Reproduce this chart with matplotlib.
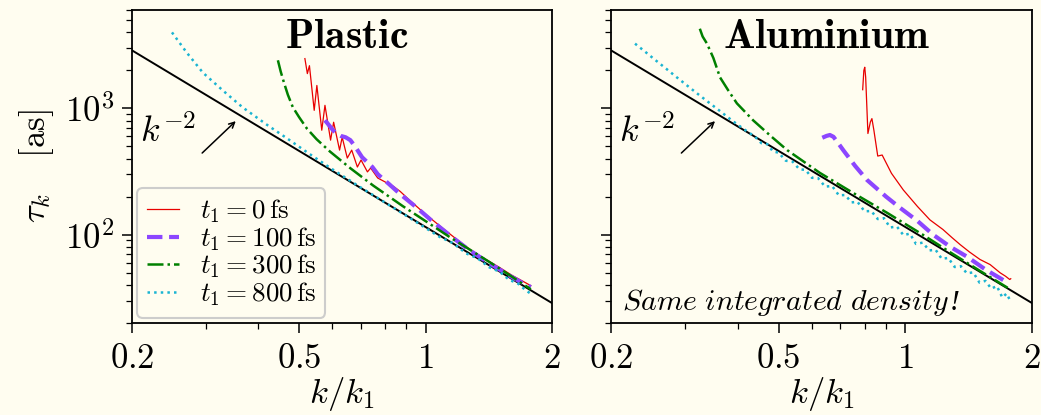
import matplotlib
matplotlib.use('Agg')
import matplotlib.pyplot as plt
from matplotlib.ticker import FixedLocator, LogLocator, NullFormatter, FuncFormatter

plt.rcParams['mathtext.fontset'] = 'cm'
plt.rcParams['font.family'] = ['DejaVu Serif']

# ---------------- data ----------------
k_ref = [0.2, 2.0]
tau_ref = [2875, 28.75]

# Plastic
pl_k0 = [0.516, 0.523, 0.529, 0.543, 0.551, 0.566, 0.576, 0.594, 0.604, 0.624, 0.633, 0.651,
         0.667, 0.688, 0.702, 0.727, 0.740, 0.769, 0.80, 0.84, 0.87, 0.92, 1.0, 1.1, 1.2,
         1.3, 1.4, 1.5, 1.6, 1.7, 1.78]
pl_t0 = [2475, 1883, 2175, 964, 1517, 671, 1056, 560, 776, 467, 591, 404,
         467, 343, 390, 314, 337, 281, 262, 240, 220, 185, 145, 112, 89,
         73, 63, 55, 48, 43, 39.5]

pl_k100 = [0.576, 0.59, 0.602, 0.615, 0.628, 0.645, 0.662, 0.679, 0.706, 0.747, 0.77, 0.82,
           0.869, 0.95, 1.04, 1.15, 1.26, 1.4, 1.5, 1.6, 1.7, 1.78]
pl_t100 = [804, 730, 671, 630, 605, 590, 560, 500, 410, 343, 300, 250,
           210, 165, 127, 97, 77, 61, 53, 46.5, 41.5, 38.5]

pl_k300 = [0.445, 0.452, 0.46, 0.47, 0.483, 0.50, 0.522, 0.55, 0.592, 0.661, 0.75, 0.883,
           1.0, 1.14, 1.3, 1.5, 1.78]
pl_t300 = [2400, 1950, 1600, 1280, 1020, 850, 690, 570, 455, 337, 245, 168,
           128, 96, 73, 54, 37]

pl_k800 = [0.249, 0.27, 0.295, 0.33, 0.367, 0.42, 0.468, 0.53, 0.6, 0.7, 0.8, 0.9, 1.0,
           1.08, 1.16, 1.25, 1.33, 1.42, 1.5, 1.58, 1.66, 1.72, 1.77]
pl_t800 = [3990, 2760, 1915, 1373, 1016, 737, 578, 434, 329, 237, 180, 141, 113,
           96, 86, 71, 65, 55, 51, 44, 41, 37, 34.5]

# Aluminium
al_k0 = [0.792, 0.797, 0.801, 0.805, 0.815, 0.826, 0.833, 0.842, 0.860, 0.881, 0.927, 0.989,
         1.069, 1.144, 1.228, 1.29, 1.35, 1.42, 1.505, 1.59, 1.68, 1.73, 1.77, 1.78]
al_t0 = [1404, 1990, 2114, 1764, 632, 780, 829, 671, 419, 427, 306, 226,
         167, 131, 110, 95, 83.4, 73, 63.6, 58, 49.9, 46.9, 44.2, 44.8]

al_k100 = [0.635, 0.65, 0.662, 0.675, 0.69, 0.712, 0.76, 0.811, 0.9, 0.972, 1.07, 1.164,
           1.28, 1.401, 1.55, 1.744]
al_t100 = [585, 605, 615, 595, 540, 467, 350, 271, 200, 163, 128, 100,
           80, 67, 53, 42]

al_k300 = [0.325, 0.33, 0.338, 0.35, 0.363, 0.38, 0.398, 0.435, 0.48, 0.524, 0.627, 0.75,
           0.905, 1.1, 1.3, 1.5, 1.75]
al_t300 = [4265, 3700, 3250, 2500, 1756, 1380, 1095, 804, 600, 467, 308, 215,
           149, 100, 70, 52, 38]

al_k800 = [0.228, 0.24, 0.255, 0.27, 0.285, 0.303, 0.32, 0.34, 0.363, 0.385, 0.41,
           0.44, 0.455, 0.47, 0.485, 0.5, 0.52, 0.54, 0.56, 0.58, 0.60, 0.62, 0.645,
           0.67, 0.695, 0.72, 0.745, 0.77, 0.80, 0.83, 0.86, 0.89, 0.92, 0.955, 0.99,
           1.025, 1.06, 1.10, 1.14, 1.18, 1.22, 1.265, 1.31, 1.355, 1.40, 1.45, 1.50,
           1.55, 1.60, 1.65, 1.70, 1.74, 1.78]
al_t800 = [3250, 2836, 2405, 2066, 1784, 1517, 1314, 1124, 951, 815, 698,
           594, 530, 521, 455, 446, 385, 378, 330, 325, 282, 281, 240,
           243, 205, 206, 180, 182, 153, 154, 133, 135, 114, 116, 99,
           102, 84.5, 86.5, 75.0, 76.0, 64.5, 65.4, 55.5, 56.3, 49.5, 50.3, 41.8,
           43.1, 37.4, 39.2, 31.8, 34.2, 29.5]

labels = [r'$t_1 = 0\,\mathrm{fs}$', r'$t_1 = 100\,\mathrm{fs}$',
          r'$t_1 = 300\,\mathrm{fs}$', r'$t_1 = 800\,\mathrm{fs}$']
x_ticks = [0.2, 0.5, 1, 2]
x_ticklabels = ['0.2', '0.5', '1', '2']
y_ticks = [100, 1000]
y_ticklabels = [r'$10^2$', r'$10^3$']

# ---------------- style ----------------
BG = '#fffdf0'
styles = [dict(color='#e80000', lw=0.9, ls='-'),
          dict(color='#8c46ff', lw=3.0, ls='--'),
          dict(color='#008000', lw=1.8, ls='-.'),
          dict(color='#1ab4d2', lw=1.8, ls=':')]

fig = plt.figure(figsize=(10.41, 4.15), dpi=100, facecolor=BG)
ax1 = fig.add_axes([0.1268, 0.2217, 0.4035, 0.7542])
ax2 = fig.add_axes([0.587, 0.2217, 0.4044, 0.7542])

panels = [
    (ax1, [(pl_k0, pl_t0), (pl_k100, pl_t100), (pl_k300, pl_t300), (pl_k800, pl_t800)]),
    (ax2, [(al_k0, al_t0), (al_k100, al_t100), (al_k300, al_t300), (al_k800, al_t800)]),
]

all_handles = []
for ax, series in panels:
    ax.set_facecolor(BG)
    ax.set_xscale('log')
    ax.set_yscale('log')
    ax.plot(k_ref, tau_ref, color='black', lw=1.4, zorder=3)
    handles = []
    for (kk, tt), st, lab in zip(series, styles, labels):
        h, = ax.plot(kk, tt, label=lab, zorder=4, **st)
        handles.append(h)
    all_handles.append(handles)
    ax.set_xlim(0.2, 2.0)
    ax.set_ylim(20, 6000)
    ax.xaxis.set_major_locator(FixedLocator(x_ticks))
    ax.xaxis.set_major_formatter(FuncFormatter(
        lambda v, p: '$' + x_ticklabels[x_ticks.index(v)] + '$' if v in x_ticks else ''))
    ax.xaxis.set_minor_locator(LogLocator(base=10, subs=[2, 3, 4, 5, 6, 7, 8, 9], numticks=20))
    ax.xaxis.set_minor_formatter(NullFormatter())
    ax.yaxis.set_major_locator(FixedLocator(y_ticks))
    ax.yaxis.set_minor_locator(LogLocator(base=10, subs=[2, 3, 4, 5, 6, 7, 8, 9], numticks=20))
    ax.yaxis.set_minor_formatter(NullFormatter())
    ax.tick_params(which='major', length=7, width=1.1, labelsize=25, pad=6, direction='out')
    ax.tick_params(which='minor', length=4, width=0.9, direction='out')
    for s in ax.spines.values():
        s.set_linewidth(1.3)
    ax.set_xlabel(r'$k/k_1$', fontsize=25, labelpad=0)
    ax.text(0.086, 0.61, r'$k^{-2}$', transform=ax.transAxes, fontsize=26,
            ha='center', va='center')
    ax.annotate('', xy=(0.247, 0.645), xytext=(0.167, 0.543),
                xycoords='axes fraction', textcoords='axes fraction',
                arrowprops=dict(arrowstyle='->', lw=1.1, color='black',
                                shrinkA=0, shrinkB=0))

ax1.yaxis.set_major_formatter(FuncFormatter(
    lambda v, p: y_ticklabels[y_ticks.index(v)] if v in y_ticks else ''))
ax2.yaxis.set_major_formatter(NullFormatter())
ax1.set_ylabel(r'$\tau_k\quad\,[\mathrm{as}]$', fontsize=25, labelpad=6)

ax1.text(0.512, 0.879, r'$\mathbf{Plastic}$', transform=ax1.transAxes,
         fontsize=30, ha='center', va='baseline')
ax2.text(0.511, 0.879, r'$\mathbf{Aluminium}$', transform=ax2.transAxes,
         fontsize=30, ha='center', va='baseline')
note = ax2.text(0.026, 0.04, r'$\mathit{Same\ integrated\ density}$', transform=ax2.transAxes,
                fontsize=21.5, ha='left', va='baseline')

leg = ax1.legend(handles=all_handles[0], loc='lower left', fontsize=19.5, handlelength=1.2,
                 handletextpad=0.75, labelspacing=0.0, borderaxespad=0.2,
                 frameon=True, fancybox=True, facecolor=BG, edgecolor='#c8c8c8',
                 framealpha=0.9, borderpad=0.35)
leg.get_frame().set_linewidth(1.5)

# italic exclamation mark appended after the mathtext note
fig.canvas.draw()
bb = note.get_window_extent()
base = ax2.transAxes.transform((0.026, 0.04))
fig.text((bb.x1 + 1) / fig.bbox.width, base[1] / fig.bbox.height, '!',
         fontsize=21.5, family='Liberation Serif', style='italic', ha='left', va='baseline')

fig.savefig('out.png', dpi=100, facecolor=BG)
